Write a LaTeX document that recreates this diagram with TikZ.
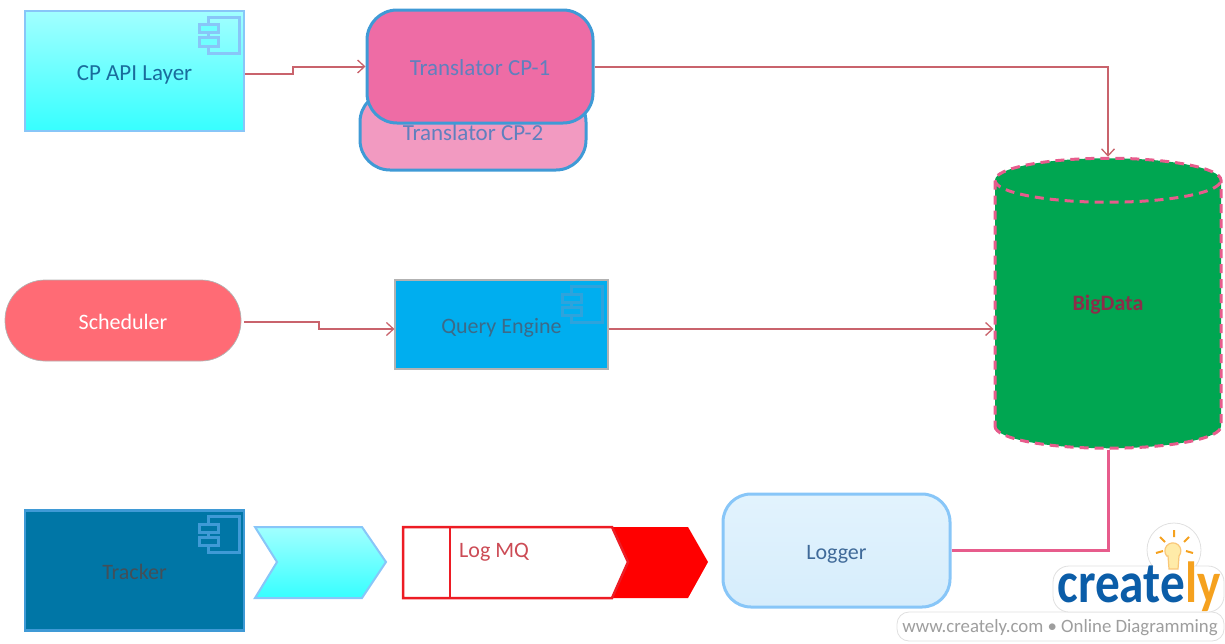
\documentclass[tikz,border=0pt]{standalone}
\usepackage{fontspec}
\setmainfont{Carlito}
\usetikzlibrary{shapes.geometric,arrows.meta}

\definecolor{linkred}{HTML}{C9636C}
\definecolor{linkpink}{HTML}{E75C8C}
\definecolor{edgeblue}{HTML}{3F9AD6}
\definecolor{edgesky}{HTML}{88C6F8}
\definecolor{logored}{HTML}{ED1C24}
\definecolor{aqualight}{HTML}{A2FFFF}
\definecolor{aquadark}{HTML}{36FFFF}
\definecolor{aquamid}{HTML}{70FFFF}
\definecolor{transone}{HTML}{EE6CA5}
\definecolor{transtwo}{HTML}{F29AC1}
\definecolor{transtext}{HTML}{5F80BE}
\definecolor{apitext}{HTML}{1A6C9C}
\definecolor{schedred}{HTML}{FF6B75}
\definecolor{queryblue}{HTML}{00AEEF}
\definecolor{querytext}{HTML}{3C6A88}
\definecolor{queryicon}{HTML}{2EA3DC}
\definecolor{dbgreen}{HTML}{00A651}
\definecolor{dbtext}{HTML}{8C2D4A}
\definecolor{trackblue}{HTML}{0076A6}
\definecolor{tracktext}{HTML}{434F58}
\definecolor{mqtext}{HTML}{CC4B55}
\definecolor{loggerlight}{HTML}{E2F3FD}
\definecolor{loggerdark}{HTML}{D6EDFC}
\definecolor{loggertext}{HTML}{3F6A99}
\definecolor{logoblue}{HTML}{0B5DA8}
\definecolor{logoorange}{HTML}{F5A11E}
\definecolor{bulbfill}{HTML}{FFEBA8}

\tikzset{
    >={Straight Barb[length=7pt,width=13pt,line width=1.3pt]},
    link/.style={draw=linkred,line width=2pt,->},
    boxtext/.style={font=\fontsize{22}{26}\selectfont,text height=22pt,text depth=4pt},
    bigtext/.style={font=\fontsize{23}{27}\selectfont},
    compbox/.style={rectangle,draw,line width=2.5pt,boxtext},
    cloudbox/.style={rectangle,rounded corners=30pt,draw=edgeblue,line width=3pt,boxtext,bigtext,text=transtext},
    aqua/.style={top color=aqualight,middle color=aquadark,bottom color=aquadark},
}

\newcommand{\compicon}[3]{
    \begin{scope}[shift={(#1.north east)},line width=3pt]
        \draw[#2] (-37,7.5) rectangle (-6,43.5);
        \draw[#2,fill=#3] (-46,15) rectangle (-27,23);
        \draw[#2,fill=#3] (-46,28) rectangle (-27,36.5);
    \end{scope}
}

\begin{document}
\begin{tikzpicture}[x=1pt,y=-1pt]
    \useasboundingbox (0,0) rectangle (1225,643);

    % top row
    \node[compbox,bigtext,draw=edgesky,aqua,text=apitext,minimum width=219pt,minimum height=120pt] (cpapi) at (134.5,71) {CP API Layer};
    \compicon{cpapi}{edgesky}{aquamid}

    \node[cloudbox,fill=transtwo,minimum width=226pt,minimum height=78pt] (transtwo) at (473,131) {Translator CP-2};
    \node[cloudbox,fill=transone,minimum width=226pt,minimum height=113pt] (transone) at (480,66.5) {Translator CP-1};

    % middle row
    \node[rectangle,rounded corners=40pt,draw=black!30,line width=.7pt,fill=schedred,text=white,boxtext,minimum width=236pt,minimum height=81pt] (scheduler) at (123,320.5) {Scheduler};

    \node[compbox,draw=black!30,line width=1.2pt,fill=queryblue,text=querytext,minimum width=213pt,minimum height=89pt] (query) at (501.5,324.5) {Query Engine};
    \compicon{query}{queryicon}{queryblue}

    % database
    \node[cylinder,shape border rotate=90,aspect=.62,draw=linkpink,dash pattern=on 9pt off 6pt,line width=3pt,fill=dbgreen,minimum width=226pt,minimum height=290pt,inner sep=0pt,font=\bfseries\fontsize{22}{26}\selectfont,text=dbtext,text height=16pt,text depth=26pt] (bigdata) at (1108,315) {BigData};

    % bottom row
    \node[compbox,draw=edgeblue,fill=trackblue,text=tracktext,minimum width=219pt,minimum height=120pt] (tracker) at (134.5,570.5) {Tracker};
    \compicon{tracker}{edgeblue}{trackblue}

    \draw[edgesky,line width=2pt,aqua] (255,527) -- (362,527) -- (386,562) -- (362,598) -- (255,598) -- (277,562) -- cycle;

    \fill[red] (403,527) -- (688,527) -- (708,562) -- (688,598) -- (403,598) -- cycle;
    \draw[logored,line width=2.5pt,fill=white] (403,527) -- (612,527) -- (628,562) -- (612,598) -- (403,598) -- cycle;
    \draw[logored,line width=2.5pt] (450,527) -- (450,598);
    \node[boxtext,anchor=west,text=mqtext,inner sep=0pt] (logmq) at (459,548) {Log MQ};

    \node[rectangle,rounded corners=28pt,draw=edgesky,line width=3pt,top color=loggerlight,bottom color=loggerdark,text=loggertext,boxtext,minimum width=227pt,minimum height=113pt] (logger) at (836.5,550.5) {Logger};

    % connectors
    \coordinate (cpapiout) at ([yshift=-2.5pt]cpapi.east);
    \coordinate (queryout) at ([yshift=-4.5pt]query.east);
    \coordinate (schedout) at ([xshift=3pt,yshift=-1.5pt]scheduler.east);
    \draw[link] (cpapiout) -- ++(48,0) |- (transone.west);
    \draw[link] (transone.east) -| (bigdata.north);
    \draw[link] (schedout) -- ++(75,0) |- (query.west |- queryout);
    \draw[link] (queryout) -- (queryout -| bigdata.west);
    \draw[linkpink,line width=3pt] (logger.east) -| (bigdata.south);

    % logo
    \draw[black!12,line width=.8pt,fill=white,rounded corners=12pt] (897,612) rectangle (1224,641);
    \node[text=black!38,font=\fontsize{18.8}{24}\selectfont,inner sep=0pt] (site) at (1060,628) {www.creately.com • Online Diagramming};
    \draw[black!12,line width=.8pt,fill=white] (1174,550) circle (27pt);
    \draw[black!12,line width=.8pt,fill=white,rounded corners=16pt] (1053,566) rectangle (1224,612);
    \fill[white] (1174,550) circle (26pt);
    \node[font=\bfseries\fontsize{58}{60}\selectfont,inner sep=0pt,anchor=base,xscale=.85,transform shape] (logo) at (1139,602) {\textcolor{logoblue}{create}\textcolor{logoorange}{ly}};
    \draw[logoorange!60,line width=1.2pt,fill=bulbfill] (1168,556) -- (1169,569) -- (1178,569) -- (1179,556) arc (-40:220:8pt) -- cycle;
    \draw[logoorange,line width=2pt] (1174,530) -- (1174,537) (1160,537) -- (1165,542) (1189,537) -- (1184,542) (1156,553) -- (1163,551) (1193,553) -- (1186,551);
\end{tikzpicture}
\end{document}
